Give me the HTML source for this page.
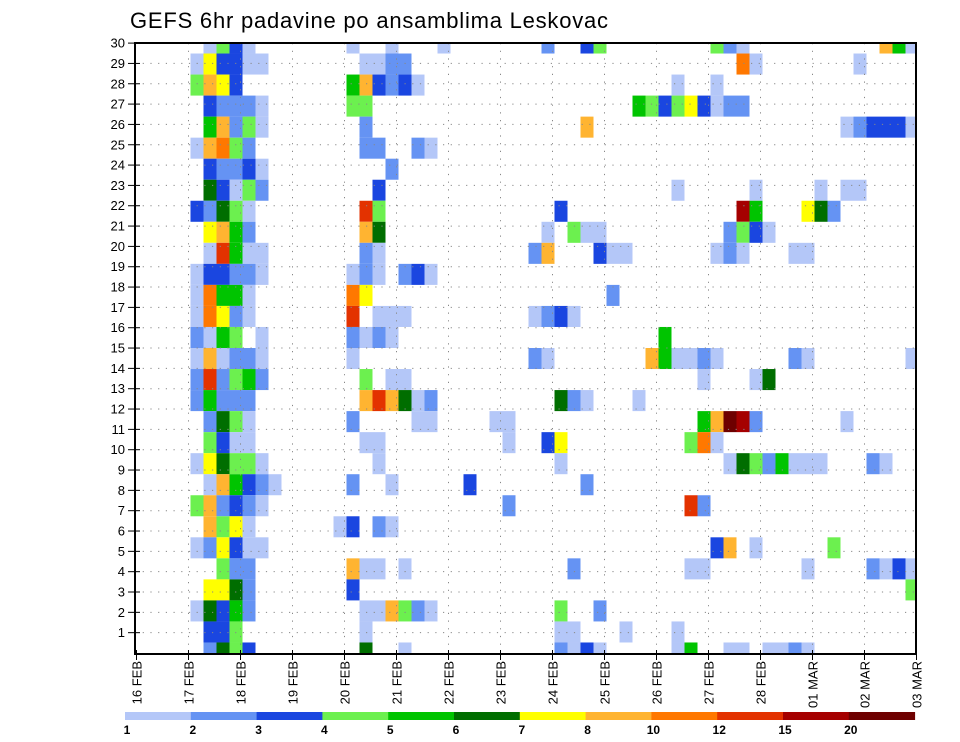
<!DOCTYPE html>
<html><head><meta charset="utf-8"><title>GEFS 6hr padavine po ansamblima Leskovac</title>
<style>html,body{margin:0;padding:0;background:#fff;}svg{display:block;font-family:"Liberation Sans",sans-serif;}</style>
</head><body>
<svg id="chart" width="960" height="742" viewBox="0 0 960 742" xmlns="http://www.w3.org/2000/svg">
<text x="130" y="28" font-size="22" textLength="478" fill="#000">GEFS 6hr padavine po ansamblima Leskovac</text>
<g id="cells"></g>
<g id="grid"></g>
<rect x="135" y="43" width="781" height="611" fill="none" stroke="#000" stroke-width="2"/>
<g id="yaxis"></g>
<g id="xaxis"></g>
<g id="legend"></g>
</svg>
<script>
// categories
const dayLabels = ['16 FEB','17 FEB','18 FEB','19 FEB','20 FEB','21 FEB','22 FEB','23 FEB','24 FEB','25 FEB','26 FEB','27 FEB','28 FEB','01 MAR','02 MAR','03 MAR'];
const memberTicks = [1,2,3,4,5,6,7,8,9,10,11,12,13,14,15,16,17,18,19,20,21,22,23,24,25,26,27,28,29,30];
const legendLabels = ['1','2','3','4','5','6','7','8','10','12','15','20'];
const classColors = ['#ffffff','#b4c7f8','#6593f3','#1a46e0','#6cf04f','#00c400','#006e00','#ffff00','#ffb431','#ff7800','#e33200','#a50000','#6e0000'];
// members (top to bottom)
const members = [30,29,28,27,26,25,24,23,22,21,20,19,18,17,16,15,14,13,12,11,10,9,8,7,6,5,4,3,2,1];
// time-step index (6h) for each member row
const steps = [
[5,6,7,8,16,19,23,31,34,35,44,45,46,57,58,59],
[4,5,6,7,8,9,17,18,19,20,46,47,55],
[4,5,6,7,16,17,18,19,20,21,41,44],
[5,6,7,8,9,16,17,38,39,40,41,42,43,44,45,46],
[5,6,7,8,9,17,34,54,55,56,57,58,59],
[4,5,6,7,8,17,18,21,22],
[5,6,7,8,9,19],
[5,6,7,8,9,18,41,47,52,54,55],
[4,5,6,7,8,17,18,32,46,47,51,52,53],
[5,6,7,8,17,18,31,33,34,35,45,46,47,48],
[5,6,7,8,9,17,18,30,31,35,36,37,44,45,46,50,51],
[4,5,6,7,8,9,16,17,18,20,21,22],
[4,5,6,7,8,16,17,36],
[4,5,6,7,8,16,18,19,20,30,31,32,33],
[4,5,6,7,9,16,17,18,19,40],
[4,5,6,7,8,9,16,30,31,39,40,41,42,43,44,50,51,59],
[4,5,6,7,8,9,17,19,20,43,47,48],
[4,5,6,7,8,17,18,19,20,21,22,32,33,34,38],
[5,6,7,8,16,21,22,27,28,43,44,45,46,47,54],
[5,6,7,8,17,18,28,31,32,42,43,44],
[4,5,6,7,8,9,18,32,45,46,47,48,49,50,51,52,56,57],
[5,6,7,8,9,10,16,19,25,34],
[4,5,6,7,8,9,28,42,43],
[5,6,7,8,15,16,18,19],
[4,5,6,7,8,9,44,45,47,53],
[6,7,8,16,17,18,20,33,42,43,51,56,57,58,59],
[5,6,7,8,16,59],
[4,5,6,7,8,17,18,19,20,21,22,32,35],
[5,6,7,17,32,33,37,41],
[5,6,7,8,17,20,32,33,34,35,41,42,45,46,48,49,50,51]
];
// precipitation class (1..12 = legend bins) for each cell
const classes = [
[1,4,3,1,1,1,1,2,3,4,4,2,1,8,5,1],
[1,7,3,3,1,1,1,1,2,2,9,1,1],
[4,8,7,3,5,8,3,2,3,1,1,1],
[3,2,2,2,1,4,4,5,4,3,4,7,3,1,2,2],
[5,8,2,4,1,2,8,1,2,3,3,3,1],
[1,8,9,4,2,2,2,2,1],
[3,2,2,3,1,2],
[6,3,1,4,2,3,1,1,1,1,1],
[3,2,6,4,1,10,4,3,11,5,7,6,2],
[7,8,5,2,8,6,1,4,1,1,2,4,3,1],
[1,10,5,1,1,2,1,2,8,3,1,1,1,2,1,1,1],
[1,3,3,2,2,1,1,2,1,2,3,1],
[1,9,5,5,1,9,7,2],
[1,9,7,2,1,10,1,1,1,1,2,3,1],
[2,1,5,4,1,2,1,2,1,5],
[1,8,1,2,2,1,1,2,1,8,5,1,1,2,1,2,1,1],
[2,10,2,4,5,2,4,1,1,1,1,6],
[2,5,2,2,2,8,10,8,6,1,2,6,2,1,1],
[2,6,4,1,2,1,1,1,1,5,8,12,11,2,1],
[4,3,1,1,1,1,1,3,7,4,9,1],
[1,7,6,4,4,1,1,1,1,6,4,2,5,1,1,1,2,1],
[1,8,5,3,2,1,2,1,3,2],
[4,8,2,3,2,1,2,10,2],
[8,4,7,1,1,3,2,1],
[1,2,7,3,1,1,3,8,1,4],
[4,2,2,8,1,1,1,2,1,1,1,2,1,3,1],
[7,7,6,2,3,4],
[1,6,3,5,2,1,1,8,4,2,1,4,2],
[3,3,4,1,1,1,1,1],
[2,6,4,3,6,1,2,1,3,1,1,5,1,1,1,1,2,1]
];

const SVGNS = 'http://www.w3.org/2000/svg';
const PL = 135, PR = 916, PT = 43, PB = 654;
const X0 = 136.5, STEP_W = 13, DAY_W = 52, CELL_OFF = 2;
const ROW_H = (PB - 1 - PT) / 29;
function xStep(s){ return X0 + CELL_OFF + s * STEP_W; }
function xDay(d){ return X0 + d * DAY_W; }
function yMember(m){ return PT + (30 - m) * ROW_H; }          // cell centre
function yTick(n){ return 653 - n * 20.33; }                    // axis tick

const cellG = document.getElementById('cells');
members.forEach(function(m, r){
  steps[r].forEach(function(s, i){
    const x = xStep(s), yc = yMember(m);
    let y1 = Math.max(PT, yc - ROW_H/2), y2 = Math.min(PB, yc + ROW_H/2);
    let x2 = Math.min(PR, x + STEP_W);
    const rc = document.createElementNS(SVGNS, 'rect');
    rc.setAttribute('x', x); rc.setAttribute('y', y1);
    rc.setAttribute('width', Math.max(0, x2 - x)); rc.setAttribute('height', y2 - y1);
    rc.setAttribute('fill', classColors[classes[r][i]]);
    
    
    cellG.appendChild(rc);
  });
});

const gridG = document.getElementById('grid');
memberTicks.forEach(function(n){
  if (n >= 30) return;
  const ln = document.createElementNS(SVGNS, 'line');
  ln.setAttribute('x1', PL); ln.setAttribute('x2', PR);
  ln.setAttribute('y1', yTick(n)); ln.setAttribute('y2', yTick(n));
  ln.setAttribute('stroke', '#888'); ln.setAttribute('stroke-width', '1');
  ln.setAttribute('stroke-dasharray', '1.2,6.5');
  
  
  gridG.appendChild(ln);
});
dayLabels.forEach(function(lbl, d){
  if (d === 0 || d === dayLabels.length - 1) return;
  const ln = document.createElementNS(SVGNS, 'line');
  ln.setAttribute('x1', xDay(d)); ln.setAttribute('x2', xDay(d));
  ln.setAttribute('y1', PT); ln.setAttribute('y2', PB);
  ln.setAttribute('stroke', '#888'); ln.setAttribute('stroke-width', '1');
  ln.setAttribute('stroke-dasharray', '1.2,6.5');
  
  
  gridG.appendChild(ln);
});

const yG = document.getElementById('yaxis');
memberTicks.forEach(function(n){
  const y = yTick(n);
  const tk = document.createElementNS(SVGNS, 'line');
  tk.setAttribute('x1', 128); tk.setAttribute('x2', 140);
  tk.setAttribute('y1', y); tk.setAttribute('y2', y);
  tk.setAttribute('stroke', '#000'); tk.setAttribute('stroke-width', '1');
  
  
  yG.appendChild(tk);
  const t = document.createElementNS(SVGNS, 'text');
  t.setAttribute('x', 125); t.setAttribute('y', y + 4.5);
  t.setAttribute('text-anchor', 'end'); t.setAttribute('font-size', '13');
  t.textContent = n;
  
  
  yG.appendChild(t);
});

const xG = document.getElementById('xaxis');
dayLabels.forEach(function(lbl, d){
  const x = xDay(d);
  const tk = document.createElementNS(SVGNS, 'line');
  tk.setAttribute('x1', x); tk.setAttribute('x2', x);
  tk.setAttribute('y1', PB - 4); tk.setAttribute('y2', PB + 6);
  tk.setAttribute('stroke', '#000'); tk.setAttribute('stroke-width', '1');
  
  
  xG.appendChild(tk);
  const t = document.createElementNS(SVGNS, 'text');
  t.setAttribute('transform', 'translate(' + (x + 5) + ',661) rotate(-90)');
  t.setAttribute('text-anchor', 'end'); t.setAttribute('font-size', '13');
  t.textContent = lbl;
  
  
  xG.appendChild(t);
});

const lgG = document.getElementById('legend');
const LX = 125, LW = 65.8;
legendLabels.forEach(function(lbl, i){
  const rc = document.createElementNS(SVGNS, 'rect');
  rc.setAttribute('x', LX + i * LW); rc.setAttribute('y', 712);
  rc.setAttribute('width', LW + 0.5); rc.setAttribute('height', 8);
  rc.setAttribute('fill', classColors[i + 1]);
  
  
  lgG.appendChild(rc);
  const t = document.createElementNS(SVGNS, 'text');
  t.setAttribute('x', LX + i * LW + 2); t.setAttribute('y', 734);
  t.setAttribute('text-anchor', 'middle'); t.setAttribute('font-size', '12');
  t.setAttribute('font-weight', 'bold');
  t.textContent = lbl;
  
  
  lgG.appendChild(t);
});
</script>
</body></html>
